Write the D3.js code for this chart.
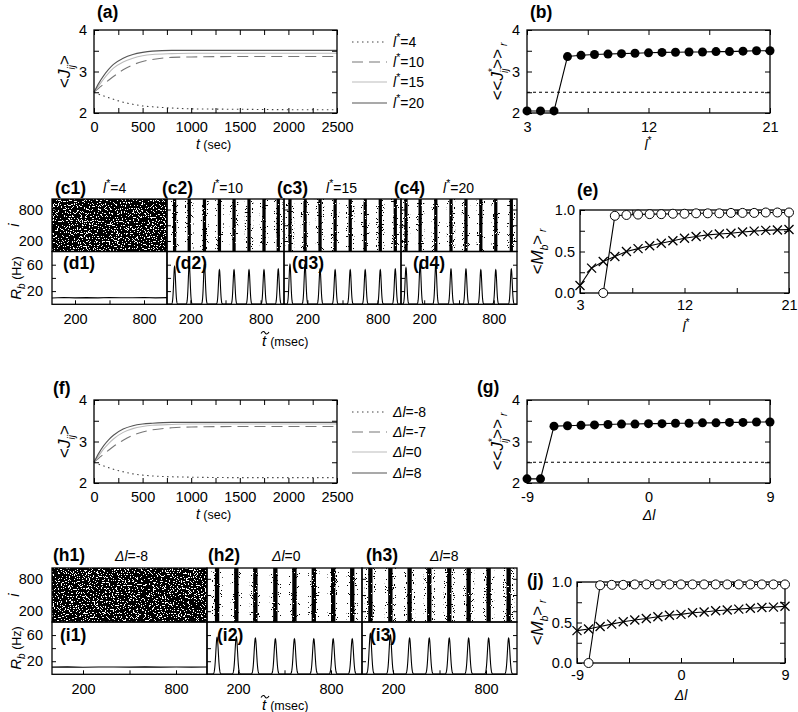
<!DOCTYPE html>
<html>
<head>
<meta charset="utf-8">
<script src="https://cdn.jsdelivr.net/npm/d3@7"></script>
<style>
  body { margin: 0; background: #fff; }
  svg text { font-family: "Liberation Sans", Arial, sans-serif; fill: #000; }
</style>
</head>
<body>
<script>
// ---------- data ----------
// (a) and (f): population-averaged coupling vs time
const T_SEC = [0, 50, 100, 150, 200, 300, 400, 500, 600, 800, 1000, 1500, 2000, 2500];
const J_L4  = [2.50, 2.45, 2.41, 2.37, 2.33, 2.26, 2.21, 2.17, 2.15, 2.12, 2.10, 2.09, 2.08, 2.08];
const J_L10 = [2.50, 2.60, 2.70, 2.79, 2.88, 3.04, 3.16, 3.24, 3.29, 3.34, 3.35, 3.36, 3.36, 3.36];
const J_L15 = [2.50, 2.66, 2.82, 2.96, 3.08, 3.23, 3.32, 3.38, 3.41, 3.43, 3.44, 3.44, 3.44, 3.44];
const J_L20 = [2.50, 2.72, 2.90, 3.05, 3.17, 3.32, 3.41, 3.46, 3.49, 3.51, 3.51, 3.51, 3.51, 3.51];
const LEG_A = ["4", "10", "15", "20"];

const J_DM8 = [2.50, 2.45, 2.41, 2.37, 2.33, 2.27, 2.22, 2.19, 2.17, 2.15, 2.14, 2.13, 2.13, 2.13];
const J_DM7 = [2.50, 2.60, 2.70, 2.79, 2.88, 3.03, 3.15, 3.23, 3.28, 3.33, 3.35, 3.36, 3.36, 3.36];
const J_D0  = [2.50, 2.66, 2.82, 2.95, 3.06, 3.22, 3.31, 3.36, 3.39, 3.41, 3.42, 3.42, 3.42, 3.42];
const J_D8  = [2.50, 2.72, 2.90, 3.04, 3.15, 3.30, 3.38, 3.42, 3.44, 3.46, 3.46, 3.46, 3.46, 3.46];
const LEG_F = ["-8", "-7", "0", "8"];

// (b), (e): vs l*
const L_STAR = [3, 4, 5, 6, 7, 8, 9, 10, 11, 12, 13, 14, 15, 16, 17, 18, 19, 20, 21];
const JSTAR_B = [2.05, 2.05, 2.05, 3.36, 3.39, 3.41, 3.42, 3.43, 3.44, 3.45, 3.46, 3.465, 3.47, 3.47, 3.48, 3.48, 3.49, 3.50, 3.50];
const L_STAR_M = [5, 6, 7, 8, 9, 10, 11, 12, 13, 14, 15, 16, 17, 18, 19, 20, 21];
const M_OPEN_E = [0.0, 0.93, 0.94, 0.945, 0.95, 0.95, 0.955, 0.955, 0.96, 0.96, 0.96, 0.965, 0.965, 0.965, 0.97, 0.97, 0.97];
const M_CROSS_E = [0.09, 0.30, 0.38, 0.44, 0.50, 0.535, 0.57, 0.60, 0.63, 0.66, 0.68, 0.70, 0.71, 0.72, 0.735, 0.745, 0.755, 0.76, 0.765];

// (g), (j): vs delta l
const DL = [-9, -8, -7, -6, -5, -4, -3, -2, -1, 0, 1, 2, 3, 4, 5, 6, 7, 8, 9];
const JSTAR_G = [2.10, 2.10, 3.37, 3.38, 3.39, 3.40, 3.41, 3.42, 3.42, 3.43, 3.43, 3.44, 3.44, 3.45, 3.45, 3.46, 3.46, 3.47, 3.47];
const DL_M = [-8, -7, -6, -5, -4, -3, -2, -1, 0, 1, 2, 3, 4, 5, 6, 7, 8, 9];
const M_OPEN_J = [0.0, 0.96, 0.965, 0.965, 0.97, 0.97, 0.97, 0.97, 0.97, 0.97, 0.97, 0.97, 0.97, 0.97, 0.97, 0.97, 0.97, 0.97];
const M_CROSS_J = [0.40, 0.42, 0.45, 0.48, 0.51, 0.53, 0.55, 0.57, 0.59, 0.60, 0.62, 0.63, 0.645, 0.655, 0.665, 0.675, 0.685, 0.69, 0.70];

// raster / rate panels: population-rate peak times (msec) and heights (Hz)
const T_RATE = [0, 100, 200, 300, 400, 500, 600, 700, 800, 900, 1000];
const R_D1 = [9.5, 10.2, 9.8, 10.1, 9.7, 10.3, 9.9, 10.0, 10.2, 9.8, 10.1];
const PEAK_D2 = [65, 190, 320, 448, 573, 701, 829, 951];
const HGT_D2  = [57, 60, 60, 52, 52, 52, 52, 53];
const PEAK_D3 = [51, 180, 308, 437, 566, 694, 823, 951];
const HGT_D3  = [60, 60, 53, 52, 52, 52, 52, 53];
const PEAK_D4 = [43, 165, 300, 431, 560, 688, 817, 951];
const HGT_D4  = [55, 60, 60, 53, 53, 52, 52, 53];
const R_I1 = [11.0, 11.4, 10.8, 11.2, 11.1, 10.9, 11.3, 11.0, 11.2, 10.9, 11.1];
const PEAK_I2 = [65, 189, 312, 441, 564, 689, 814, 937];
const HGT_I2  = [56, 57, 55, 54, 54, 54, 54, 54];
const PEAK_I3 = [54, 183, 307, 434, 563, 688, 817, 946];
const HGT_I3  = [62, 60, 55, 55, 55, 55, 55, 55];

// ---------- setup ----------
const FF = "'Liberation Sans', Arial, sans-serif";
const svg = d3.select("body").append("svg").attr("width", 798).attr("height", 712);
const defs = svg.append("defs");

// grain filters: turn a black shape into speckles of a given density (raster look)
function makeGrain(id, offset, freq) {
  const f = defs.append("filter").attr("id", id)
    .attr("x", 0).attr("y", 0).attr("width", 1).attr("height", 1)
    .attr("color-interpolation-filters", "sRGB");
  f.append("feTurbulence").attr("type", "fractalNoise").attr("baseFrequency", freq)
    .attr("numOctaves", 2).attr("seed", 7).attr("result", "n");
  f.append("feColorMatrix").attr("in", "n").attr("type", "matrix")
    .attr("values", `0 0 0 0 0  0 0 0 0 0  0 0 0 0 0  5 0 0 0 ${offset}`).attr("result", "a");
  f.append("feComponentTransfer").attr("in", "a").attr("result", "b")
    .append("feFuncA").attr("type", "discrete").attr("tableValues", "0 1");
  f.append("feComposite").attr("in", "SourceGraphic").attr("in2", "b").attr("operator", "in");
}
makeGrain("gNoise", -1.45, 0.75);
makeGrain("gCore", -0.8, 0.9);
makeGrain("gHalo", -2.8, 0.9);

function text(x, y, s, o = {}) {
  return svg.append("text").attr("x", x).attr("y", y).text(s)
    .attr("font-size", o.fs || 14.5)
    .attr("font-weight", o.bold ? "bold" : null)
    .attr("font-style", o.it ? "italic" : null)
    .attr("text-anchor", o.anchor || "start");
}
function plab(x, y, s) { return text(x, y, s, {fs: 17.5, bold: true}); }

// l*=value / delta l = value as rich text
function lstar(t, val, fs) {
  t.append("tspan").attr("font-style", "italic").text("l");
  t.append("tspan").attr("font-size", fs * 0.75).attr("dy", -fs * 0.4).text("*");
  if (val !== null) t.append("tspan").attr("dy", fs * 0.4).text("=" + val);
  return t;
}
function dl(t, val) {
  t.append("tspan").attr("font-style", "italic").text("\u0394l");
  if (val !== null) t.append("tspan").text("=" + val);
  return t;
}

function styleAxis(sel) {
  sel.select(".domain").remove();
  sel.selectAll("line").attr("stroke", "#000");
  sel.selectAll("text").attr("font-size", 14.5).attr("font-family", FF).attr("fill", "#000");
}
function lab(list, f) { return d => (list && list.includes(d)) ? f(d) : ""; }

function frame(box, x, y, o) {
  const g = svg.append("g");
  const ts = o.ts || 5;
  if (o.xt) {
    g.append("g").attr("transform", `translate(0,${box.y1})`)
      .call(d3.axisBottom(x).tickValues(o.xt).tickSize(-ts).tickPadding(o.xpad || 9)
        .tickFormat(lab(o.xl, o.xf || String)))
      .call(styleAxis);
    if (o.top !== false) g.append("g").attr("transform", `translate(0,${box.y0})`)
      .call(d3.axisTop(x).tickValues(o.xt).tickSize(-ts).tickFormat(""))
      .call(styleAxis);
  }
  if (o.yt) {
    if (o.left !== false) g.append("g").attr("transform", `translate(${box.x0},0)`)
      .call(d3.axisLeft(y).tickValues(o.yt).tickSize(-ts).tickPadding(o.ypad || 7)
        .tickFormat(lab(o.yl, o.yf || String)))
      .call(styleAxis);
    if (o.right !== false) g.append("g").attr("transform", `translate(${box.x1},0)`)
      .call(d3.axisRight(y).tickValues(o.yt).tickSize(-ts).tickFormat(""))
      .call(styleAxis);
  }
  g.append("rect").attr("x", box.x0).attr("y", box.y0)
    .attr("width", box.x1 - box.x0).attr("height", box.y1 - box.y0)
    .attr("fill", "none").attr("stroke", "#000").attr("stroke-width", 1.3);
  return g;
}

const CURVE_STYLES = [
  {stroke: "#444", dash: "1.5,3.5", w: 1.1},
  {stroke: "#777", dash: "11,6", w: 1.1},
  {stroke: "#bbb", dash: null, w: 1.1},
  {stroke: "#555", dash: null, w: 1.1}
];

// ---------- (a) / (f) ----------
function timePanel(box, series, legVals, legY, isDl) {
  const x = d3.scaleLinear().domain([0, 2500]).range([box.x0, box.x1]);
  const y = d3.scaleLinear().domain([2, 4]).range([box.y1, box.y0]);
  const line = d3.line().x((d, i) => x(T_SEC[i])).y(d => y(d)).curve(d3.curveMonotoneX);
  series.forEach((s, k) => {
    const st = CURVE_STYLES[k];
    svg.append("path").attr("d", line(s)).attr("fill", "none")
      .attr("stroke", st.stroke).attr("stroke-width", st.w).attr("stroke-dasharray", st.dash);
  });
  frame(box, x, y, {
    xt: d3.range(0, 2501, 250), xl: [0, 500, 1000, 1500, 2000, 2500],
    yt: [2, 2.5, 3, 3.5, 4], yl: [2, 3, 4]
  });
  legVals.forEach((v, k) => {
    const st = CURVE_STYLES[k];
    svg.append("line").attr("x1", 352).attr("x2", 387).attr("y1", legY[k]).attr("y2", legY[k])
      .attr("stroke", st.stroke).attr("stroke-width", st.w).attr("stroke-dasharray", st.dash);
    const t = text(393, legY[k] + 5, "", {fs: 14});
    if (isDl) dl(t, v); else lstar(t, v, 14);
  });
  // axis labels
  const xl = text((box.x0 + box.x1) / 2 - 2, box.y1 + 36, "", {fs: 14, anchor: "middle"});
  xl.append("tspan").attr("font-style", "italic").text("t");
  xl.append("tspan").attr("font-size", 12.5).text(" (sec)");
  const yl = svg.append("text").attr("transform", `translate(70,${(box.y0 + box.y1) / 2}) rotate(-90)`)
    .attr("text-anchor", "middle").attr("font-size", 17);
  yl.append("tspan").text("<");
  yl.append("tspan").attr("font-style", "italic").text("J");
  yl.append("tspan").attr("font-size", 10).attr("font-style", "italic").attr("dy", 5).text("ij");
  yl.append("tspan").attr("dy", -5).text(">");
}

const A = {x0: 94, x1: 337, y0: 30, y1: 113};
timePanel(A, [J_L4, J_L10, J_L15, J_L20], LEG_A, [42, 62, 82, 103], false);
plab(97, 18, "(a)");

const F = {x0: 94, x1: 337, y0: 400, y1: 483};
timePanel(F, [J_DM8, J_DM7, J_D0, J_D8], LEG_F, [412, 432, 452, 473], true);
plab(53, 394, "(f)");

// ---------- (b) / (g) ----------
function jstarPanel(box, xs, vals, xdom, xt, xl) {
  const x = d3.scaleLinear().domain(xdom).range([box.x0, box.x1]);
  const y = d3.scaleLinear().domain([2, 4]).range([box.y1, box.y0]);
  svg.append("line").attr("x1", box.x0).attr("x2", box.x1).attr("y1", y(2.5)).attr("y2", y(2.5))
    .attr("stroke", "#000").attr("stroke-width", 1.1).attr("stroke-dasharray", "3,3");
  svg.append("path").attr("d", d3.line().x((d, i) => x(xs[i])).y(d => y(d))(vals))
    .attr("fill", "none").attr("stroke", "#000").attr("stroke-width", 1.1);
  frame(box, x, y, {xt: xt, xl: xl, yt: [2, 2.5, 3, 3.5, 4], yl: [2, 3, 4]});
  svg.append("g").selectAll("circle").data(vals).join("circle")
    .attr("cx", (d, i) => x(xs[i])).attr("cy", d => y(d)).attr("r", 4.5).attr("fill", "#000");
  const yl = svg.append("text").attr("transform", `translate(503,${(box.y0 + box.y1) / 2}) rotate(-90)`)
    .attr("text-anchor", "middle").attr("font-size", 17);
  yl.append("tspan").text("<<");
  yl.append("tspan").attr("font-style", "italic").text("J");
  yl.append("tspan").attr("font-size", 10).attr("dy", -7).text("*");
  yl.append("tspan").attr("font-size", 10).attr("font-style", "italic").attr("dx", -5).attr("dy", 12).text("ij");
  yl.append("tspan").attr("dy", -5).text(">>");
  yl.append("tspan").attr("font-size", 10).attr("font-style", "italic").attr("dy", 4).text(" r");
}

const B = {x0: 527, x1: 770, y0: 30, y1: 113};
jstarPanel(B, L_STAR, JSTAR_B, [3, 21], [3, 7.5, 12, 16.5, 21], [3, 12, 21]);
plab(530, 18, "(b)");
lstar(text(648, 150, "", {fs: 14, anchor: "middle"}), null, 14);

const G = {x0: 527, x1: 770, y0: 400, y1: 483};
jstarPanel(G, DL, JSTAR_G, [-9, 9], [-9, -4.5, 0, 4.5, 9], [-9, 0, 9]);
plab(477, 393, "(g)");
dl(text(649, 520, "", {fs: 14, anchor: "middle"}), null);

// ---------- (e) / (j) ----------
function mPanel(box, xsO, open, xsX, cross, xdom, xt, xl) {
  const x = d3.scaleLinear().domain(xdom).range([box.x0, box.x1]);
  const y = d3.scaleLinear().domain([0, 1]).range([box.y1, box.y0]);
  const ln = xs => d3.line().x((d, i) => x(xs[i])).y(d => y(d));
  svg.append("path").attr("d", ln(xsX)(cross)).attr("fill", "none").attr("stroke", "#000").attr("stroke-width", 1.1);
  svg.append("path").attr("d", ln(xsO)(open)).attr("fill", "none").attr("stroke", "#000").attr("stroke-width", 1.1);
  frame(box, x, y, {xt: xt, xl: xl, xpad: 7, yt: [0, 0.25, 0.5, 0.75, 1], yl: [0, 0.5, 1], yf: d3.format(".1f"), ypad: 5});
  svg.append("g").selectAll("path").data(cross).join("path")
    .attr("transform", (d, i) => `translate(${x(xsX[i])},${y(d)})`)
    .attr("d", "M-4.5,-4.5L4.5,4.5M-4.5,4.5L4.5,-4.5").attr("stroke", "#000").attr("stroke-width", 1.3);
  svg.append("g").selectAll("circle").data(open).join("circle")
    .attr("cx", (d, i) => x(xsO[i])).attr("cy", d => y(d)).attr("r", 4.5)
    .attr("fill", "#fff").attr("stroke", "#000").attr("stroke-width", 1);
  const yl = svg.append("text").attr("transform", `translate(543,${(box.y0 + box.y1) / 2}) rotate(-90)`)
    .attr("text-anchor", "middle").attr("font-size", 17);
  yl.append("tspan").text("<");
  yl.append("tspan").attr("font-style", "italic").text("M");
  yl.append("tspan").attr("font-size", 10).attr("font-style", "italic").attr("dy", 5).text("b");
  yl.append("tspan").attr("dy", -5).text(">");
  yl.append("tspan").attr("font-size", 10).attr("font-style", "italic").attr("dy", 3).text(" r");
}

const E = {x0: 580, x1: 789, y0: 210, y1: 293};
mPanel(E, L_STAR_M, M_OPEN_E, L_STAR, M_CROSS_E, [3, 21], [3, 7.5, 12, 16.5, 21], [3, 12, 21]);
plab(577, 196, "(e)");
lstar(text(686, 332, "", {fs: 14, anchor: "middle"}), null, 14);

const J = {x0: 577, x1: 785, y0: 582, y1: 663};
mPanel(J, DL_M, M_OPEN_J, DL, M_CROSS_J, [-9, 9], [-9, -4.5, 0, 4.5, 9], [-9, 0, 9]);
plab(527, 586, "(j)");
dl(text(681, 700, "", {fs: 14, anchor: "middle"}), null);

// ---------- raster + population rate panels ----------
function rateFromPeaks(peaks, hts) {
  // each read peak drawn as a narrow bump around its time
  const pts = [];
  for (let t = 0; t <= 1000; t += 1) {
    let v = 0.3;
    peaks.forEach((p, k) => { v += hts[k] * Math.exp(-((t - p) * (t - p)) / (2 * 64)); });
    pts.push([t, v]);
  }
  return pts;
}

function rasterColumn(x0, x1, ry0, ry1, dy1, spec, isFirst, isLast) {
  const x = d3.scaleLinear().domain([0, 1000]).range([x0, x1]).clamp(true);
  const yi = d3.scaleLinear().domain([0, 1000]).range([ry1, ry0]);
  const yr = d3.scaleLinear().domain([0, 80]).range([dy1, ry1]);
  if (spec.async) {
    svg.append("rect").attr("x", x0).attr("y", ry0).attr("width", x1 - x0).attr("height", ry1 - ry0)
      .attr("fill", "#000").attr("filter", "url(#gNoise)");
  } else {
    svg.append("g").attr("filter", "url(#gHalo)").selectAll("rect").data(spec.peaks).join("rect")
      .attr("x", d => x(d - 36)).attr("width", d => x(d + 36) - x(d - 36))
      .attr("y", ry0).attr("height", ry1 - ry0).attr("fill", "#000");
    svg.append("g").attr("filter", "url(#gCore)").selectAll("rect").data(spec.peaks).join("rect")
      .attr("x", d => x(d - 14)).attr("width", d => x(d + 14) - x(d - 14))
      .attr("y", ry0).attr("height", ry1 - ry0).attr("fill", "#000");
  }
  // population rate
  let pts;
  if (spec.async) pts = spec.flat.map((v, i) => [T_RATE[i], v]);
  else pts = rateFromPeaks(spec.peaks, spec.hts);
  svg.append("path").attr("d", d3.line().x(d => x(d[0])).y(d => yr(d[1]))(pts))
    .attr("fill", "none").attr("stroke", "#000").attr("stroke-width", 1.1);

  const bR = {x0: x0, x1: x1, y0: ry0, y1: ry1};
  frame(bR, x, yi, {yt: [200, 500, 800], yl: isFirst ? [200, 800] : null, ypad: 9, right: isLast, ts: 4});
  const bD = {x0: x0, x1: x1, y0: ry1, y1: dy1};
  frame(bD, x, yr, {xt: [200, 500, 800], xl: [200, 800], xpad: 9, top: false,
    yt: [20, 40, 60], yl: isFirst ? [20, 60] : null, ypad: 9, right: isLast, ts: 4});
}

// (c)/(d)
const CX = [52, 167, 284, 401, 517];
const C_SPECS = [
  {async: true, flat: R_D1},
  {peaks: PEAK_D2, hts: HGT_D2},
  {peaks: PEAK_D3, hts: HGT_D3},
  {peaks: PEAK_D4, hts: HGT_D4}
];
C_SPECS.forEach((s, k) => rasterColumn(CX[k], CX[k + 1], 199, 251.5, 304.3, s, k === 0, k === 3));
const C_LAB = ["(c1)", "(c2)", "(c3)", "(c4)"];
const C_LX = [55, 162, 277, 394];
const C_VAL = ["4", "10", "15", "20"];
const C_VX = [103, 212, 326, 443];
C_LAB.forEach((s, k) => {
  plab(C_LX[k], 194, s);
  lstar(text(C_VX[k], 193, "", {fs: 14}), C_VAL[k], 14);
});
["(d1)", "(d2)", "(d3)", "(d4)"].forEach((s, k) => plab(CX[k] + [11, 8, 8, 12][k], 269, s));

// (h)/(i)
const HX = [52, 207, 362, 517];
const H_SPECS = [
  {async: true, flat: R_I1},
  {peaks: PEAK_I2, hts: HGT_I2},
  {peaks: PEAK_I3, hts: HGT_I3}
];
H_SPECS.forEach((s, k) => rasterColumn(HX[k], HX[k + 1], 568, 622, 674.3, s, k === 0, k === 2));
const H_LAB = ["(h1)", "(h2)", "(h3)"];
const H_LX = [53, 208, 366];
const H_VAL = ["-8", "0", "8"];
const H_VX = [115, 272, 430];
H_LAB.forEach((s, k) => {
  plab(H_LX[k], 561, s);
  dl(text(H_VX[k], 561, "", {fs: 14}), H_VAL[k]);
});
["(i1)", "(i2)", "(i3)"].forEach((s, k) => plab(HX[k] + [8, 10, 8][k], 641, s));

// shared labels for the raster blocks
function rasterLabels(yMidR, yMidD, yT) {
  svg.append("text").attr("transform", `translate(19,${yMidR}) rotate(-90)`)
    .attr("text-anchor", "middle").attr("font-size", 15).attr("font-style", "italic").text("i");
  const yr = svg.append("text").attr("transform", `translate(21,${yMidD}) rotate(-90)`)
    .attr("text-anchor", "middle").attr("font-size", 15);
  yr.append("tspan").attr("font-style", "italic").text("R");
  yr.append("tspan").attr("font-size", 10).attr("font-style", "italic").attr("dy", 4).text("b");
  yr.append("tspan").attr("font-size", 12.5).attr("dy", -4).text(" (Hz)");
  const xt = text(262, yT, "", {fs: 15});
  xt.append("tspan").attr("font-style", "italic").text("t");
  xt.append("tspan").attr("font-size", 12.5).attr("dx", 4).text("(msec)");
  // tilde over t
  svg.append("path").attr("transform", `translate(261,${yT - 14})`)
    .attr("d", "M0,1.5 C1.5,-1 3,-1 4,0.7 S6.5,2.5 8,0")
    .attr("fill", "none").attr("stroke", "#000").attr("stroke-width", 1.1);
}
rasterLabels(225, 278, 346);
rasterLabels(595, 648, 710);
</script>
</body>
</html>
